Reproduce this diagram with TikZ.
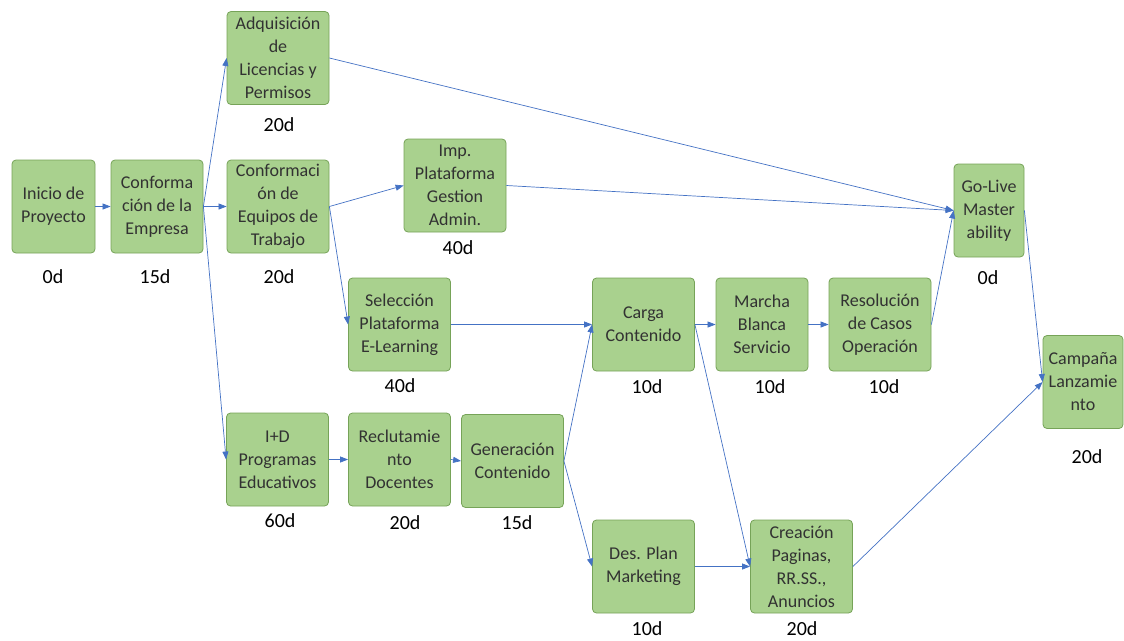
\documentclass[tikz,border=0pt]{standalone}
\usepackage{fontspec}
\setmainfont{Carlito}
\usetikzlibrary{arrows.meta}
\definecolor{taskfill}{RGB}{169,209,142}
\definecolor{taskline}{RGB}{118,163,88}
\definecolor{flowblue}{RGB}{68,114,196}
\definecolor{tasktext}{RGB}{50,50,50}
\begin{document}
\begin{tikzpicture}[x=1pt, y=-1pt]
	\tikzstyle{task} = [rectangle,draw=taskline,fill=taskfill,rounded corners=4pt,line width=0.8pt,minimum width=102pt,minimum height=93pt,align=center,text=tasktext,font=\fontsize{18}{23}\selectfont,inner sep=0pt]
	\tikzstyle{dur} = [font=\fontsize{20}{24}\selectfont,text=black]
	\tikzstyle{flow} = [color=flowblue,line width=0.7pt,every edge/.style={draw,-{Triangle[length=8pt,width=6pt]}}]
	\useasboundingbox (0,0) rectangle (1124,640);
	\node[task,minimum width=83pt](t-1)at (53.5,206.5){Inicio de\\Proyecto};
	\node[task,minimum width=92pt](t-2)at (157,206.5){Conforma\\ción de la\\Empresa};
	\node[task](t-3)at (278,58){Adquisición\\de\\Licencias y\\Permisos};
	\node[task](t-4)at (278,206.5){Conformaci\\ón de\\Equipos de\\Trabajo};
	\node[task](t-5)at (455,185.5){Imp.\\Plataforma\\Gestion\\Admin.};
	\node[task](t-6)at (399.5,324.5){Selección\\Plataforma\\E-Learning};
	\node[task](t-7)at (643.5,324.5){Carga\\Contenido};
	\node[task,minimum width=92pt](t-8)at (762,324.5){Marcha\\Blanca\\Servicio};
	\node[task](t-9)at (880,324.5){Resolución\\de Casos\\Operación};
	\node[task,minimum width=70pt](t-10)at (989,210.5){Go-Live\\Master\\ability};
	\node[task,minimum width=80pt](t-11)at (1083,382){Campaña\\Lanzamie\\nto};
	\node[task](t-12)at (277.5,459.5){I+D\\Programas\\Educativos};
	\node[task](t-13)at (399.5,459.5){Reclutamie\\nto\\Docentes};
	\node[task](t-14)at (512.5,461){Generación\\Contenido};
	\node[task](t-15)at (643.5,566.5){Des. Plan\\Marketing};
	\node[task](t-16)at (801.5,566.5){Creación\\Paginas,\\RR.SS.,\\Anuncios};
	
	\node[dur](d-1)at (53,277){0d};
	\node[dur](d-2)at (155,277){15d};
	\node[dur](d-3)at (279,125){20d};
	\node[dur](d-4)at (279,277){20d};
	\node[dur](d-5)at (458,248){40d};
	\node[dur](d-6)at (400,386){40d};
	\node[dur](d-7)at (647,387){10d};
	\node[dur](d-8)at (770,387){10d};
	\node[dur](d-9)at (884,387){10d};
	\node[dur](d-10)at (988,278){0d};
	\node[dur](d-11)at (1087,457){20d};
	\node[dur](d-12)at (280,521){60d};
	\node[dur](d-13)at (405,523){20d};
	\node[dur](d-14)at (517,523){15d};
	\node[dur](d-15)at (647,629){10d};
	\node[dur](d-16)at (802,629){20d};
	
	\path[flow] (t-1.east) edge (t-2.west)
	(t-2.east) edge (t-3.west)
	(t-2.east) edge (t-4.west)
	(t-2.east) edge (t-12.west)
	(t-3.east) edge (t-10.west)
	(t-4.east) edge (t-5.west)
	(t-4.east) edge (t-6.west)
	(t-5.east) edge (t-10.west)
	(t-6.east) edge (t-7.west)
	(t-7.east) edge (t-8.west)
	(t-8.east) edge (t-9.west)
	(t-9.east) edge (t-10.west)
	(t-10.east) edge (t-11.west)
	(t-12.east) edge (t-13.west)
	(t-13.east) edge (t-14.west)
	(t-14.east) edge (t-7.west)
	(t-14.east) edge (t-15.west)
	(t-7.east) edge (t-16.west)
	(t-15.east) edge (t-16.west)
	(t-16.east) edge (t-11.west);
	
\end{tikzpicture}
\end{document}
